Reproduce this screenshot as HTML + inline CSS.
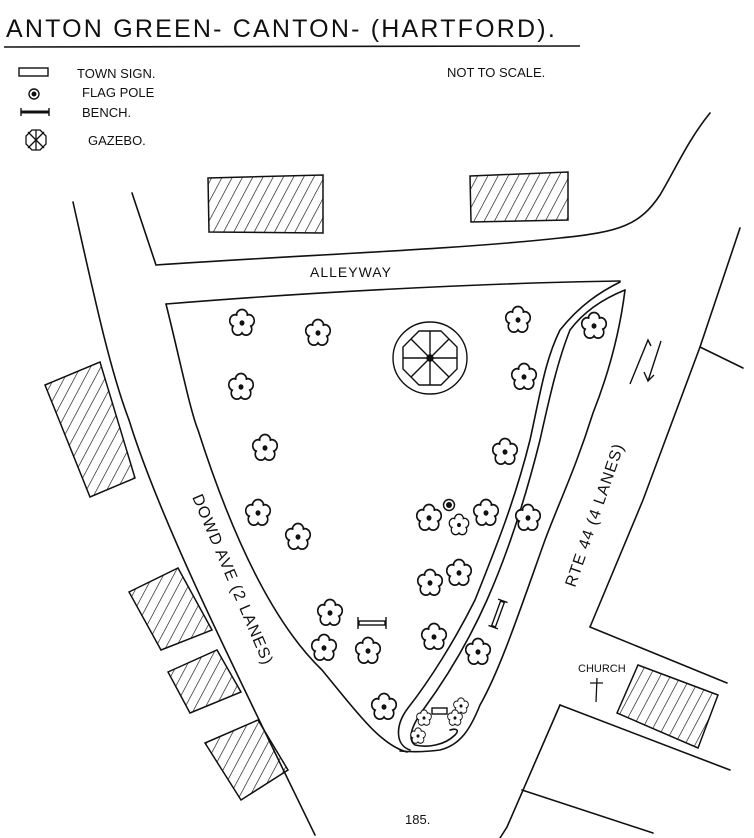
<!DOCTYPE html>
<html><head><meta charset="utf-8"><style>
html,body{margin:0;padding:0;background:#fff;}
svg{display:block;}
text{font-family:"Liberation Sans",sans-serif;fill:#111;}
</style></head><body>
<svg width="754" height="838" viewBox="0 0 754 838" xmlns="http://www.w3.org/2000/svg">
<defs>
<pattern id="h" patternUnits="userSpaceOnUse" width="9" height="9" patternTransform="rotate(28)">
<line x1="0" y1="0" x2="0" y2="9" stroke="#111" stroke-width="1.3"/>
</pattern>
<g id="f0">
<g fill="none" stroke="#111" stroke-width="1.3">
<circle cx="0" cy="-5.5" r="4.5"/><circle cx="5.3" cy="-1.7" r="4.5"/><circle cx="3.3" cy="4.5" r="4.5"/><circle cx="-3.3" cy="4.5" r="4.5"/><circle cx="-5.3" cy="-1.7" r="4.5"/>
</g>
<g fill="#fff">
<circle cx="0" cy="-5.5" r="3.7"/><circle cx="5.3" cy="-1.7" r="3.7"/><circle cx="3.3" cy="4.5" r="3.7"/><circle cx="-3.3" cy="4.5" r="3.7"/><circle cx="-5.3" cy="-1.7" r="3.7"/><circle r="5"/>
</g>
<circle r="2" fill="#111"/>
</g>
<g id="f"><g transform="scale(1.25,1.35)"><use href="#f0"/></g></g>
</defs>

<!-- title -->
<text x="6" y="37" font-size="25" letter-spacing="2.2">ANTON GREEN- CANTON- (HARTFORD).</text>
<line x1="4" y1="47" x2="580" y2="46" stroke="#111" stroke-width="1.6"/>

<!-- legend -->
<rect x="19" y="68" width="29" height="8" fill="none" stroke="#111" stroke-width="1.4"/>
<text x="77" y="78" font-size="13">TOWN SIGN.</text>
<circle cx="34" cy="94" r="5" fill="none" stroke="#111" stroke-width="1.4"/><circle cx="34" cy="94" r="2.5" fill="#111"/>
<text x="82" y="97" font-size="13">FLAG POLE</text>
<line x1="21" y1="112" x2="49" y2="112" stroke="#111" stroke-width="3"/>
<line x1="21" y1="108" x2="21" y2="116" stroke="#111" stroke-width="1.4"/><line x1="49" y1="108" x2="49" y2="116" stroke="#111" stroke-width="1.4"/>
<text x="82" y="117" font-size="13">BENCH.</text>
<g transform="translate(36,140)" stroke="#111" stroke-width="1.3" fill="none">
<polygon points="4,-10 10,-4 10,4 4,10 -4,10 -10,4 -10,-4 -4,-10"/>
<line x1="-8" y1="-8" x2="8" y2="8"/><line x1="8" y1="-8" x2="-8" y2="8"/><line x1="0" y1="-10" x2="0" y2="10"/>
</g>
<text x="88" y="145" font-size="13">GAZEBO.</text>
<text x="447" y="77" font-size="13">NOT TO SCALE.</text>

<!-- buildings -->
<g stroke="#111" stroke-width="1.5" fill="url(#h)">
<polygon points="208,178 323,175 323,233 209,232"/>
<polygon points="470,176 568,172 568,220 471,222"/>
<polygon points="45,385 100,362 135,478 90,497"/>
<polygon points="129,592 178,568 212,630 161,650"/>
<polygon points="168,672 217,650 241,692 190,713"/>
<polygon points="205,743 258,720 288,770 241,800"/>
<polygon points="638,665 718,695 698,748 617,713"/>
</g>

<!-- roads -->
<g fill="none" stroke="#111" stroke-width="1.6" stroke-linecap="round">
<path d="M73,202 C95,300 110,370 129,420 C160,520 230,660 315,835"/>
<path d="M132,193 L156,265 C300,255 450,250 560,238 C620,232 640,225 660,195 C675,170 688,140 710,113"/>
<path d="M166,304 C300,293 480,283 620,281"/>
<path d="M166,304 C180,360 190,410 198,430 C230,530 270,620 322,670 C355,710 380,745 407,752"/>
<path d="M620,282 C600,292 580,305 560,330 C545,360 540,395 530,440 C515,500 497,545 475,600 C455,640 430,680 408,708 C395,725 395,745 410,750"/>
<path d="M625,290 C605,298 585,310 570,330 C558,360 550,395 540,440 C525,500 507,555 487,600 C467,645 445,680 423,710 C410,728 408,740 415,745 C428,748 445,745 455,735 C460,730 456,728 450,730"/>
<path d="M625,290 C620,330 610,370 593,413 C575,470 560,500 545,540 C520,610 500,670 480,705 C470,730 460,745 440,750 C425,752 410,752 400,751"/>
<path d="M740,228 L700,347 L643,500 L590,627"/>
<path d="M700,347 L743,368"/>
<path d="M590,627 L727,683"/>
<path d="M560,705 L730,770"/>
<path d="M560,705 L507,827 L500,838"/>
<path d="M522,790 L653,833"/>
</g>

<!-- gazebo -->
<g transform="translate(430,358)" stroke="#111" stroke-width="1.4" fill="none">
<ellipse rx="37" ry="36"/>
<polygon points="11,-27 27,-11 27,11 11,27 -11,27 -27,11 -27,-11 -11,-27"/>
<line x1="0" y1="-27" x2="0" y2="27"/><line x1="-27" y1="0" x2="27" y2="0"/>
<line x1="-19" y1="-19" x2="19" y2="19"/><line x1="19" y1="-19" x2="-19" y2="19"/>
<circle r="3" fill="#111"/>
</g>

<!-- flowers -->
<use href="#f" x="242" y="323"/><use href="#f" x="318" y="333"/><use href="#f" x="518" y="320"/><use href="#f" x="594" y="326"/>
<use href="#f" x="241" y="387"/><use href="#f" x="524" y="377"/><use href="#f" x="265" y="448"/><use href="#f" x="505" y="452"/>
<use href="#f" x="258" y="513"/><use href="#f" x="298" y="537"/><use href="#f" x="429" y="518"/><use href="#f" x="486" y="513"/>
<use href="#f" x="528" y="518"/><use href="#f" x="430" y="583"/><use href="#f" x="459" y="573"/><use href="#f" x="330" y="613"/>
<use href="#f" x="324" y="648"/><use href="#f" x="368" y="651"/><use href="#f" x="434" y="637"/><use href="#f" x="478" y="652"/>
<use href="#f" x="384" y="707"/>
<g transform="translate(459,525) scale(0.8)"><use href="#f"/></g>
<g transform="translate(424,718) scale(0.6)"><use href="#f"/></g>
<g transform="translate(461,706) scale(0.6)"><use href="#f"/></g>
<g transform="translate(418,736) scale(0.6)"><use href="#f"/></g>
<g transform="translate(455,718) scale(0.6)"><use href="#f"/></g>

<!-- flag pole -->
<circle cx="449" cy="505" r="5.5" fill="none" stroke="#111" stroke-width="1.5"/><circle cx="449" cy="505" r="3" fill="#111"/>

<!-- benches -->
<g stroke="#111" stroke-width="1.4" fill="none">
<rect x="359" y="621" width="26" height="4"/><line x1="358" y1="617" x2="358" y2="629"/><line x1="386" y1="617" x2="386" y2="629"/>
<g transform="translate(498,614) rotate(-70)"><rect x="-13" y="-2" width="26" height="4"/><line x1="-14" y1="-5" x2="-14" y2="5"/><line x1="14" y1="-5" x2="14" y2="5"/></g>
<rect x="432" y="708" width="15" height="6"/>
</g>

<!-- arrows -->
<g stroke="#111" stroke-width="1.4" fill="none">
<path d="M630,384 L648,340 L651,346"/>
<path d="M661,341 L648,381 M644,372 L648,381 L654,375"/>
</g>

<!-- labels -->
<text x="310" y="277" font-size="14" letter-spacing="1">ALLEYWAY</text>
<text transform="translate(192,497) rotate(67)" font-size="16" letter-spacing="1">DOWD AVE (2 LANES)</text>
<text transform="translate(575,588) rotate(-71)" font-size="16" letter-spacing="1">RTE 44 (4 LANES)</text>
<text x="578" y="672" font-size="11">CHURCH</text>
<path d="M597,678 L596,702 M590,683 L603,683" stroke="#111" stroke-width="1.3" fill="none"/>
<text x="405" y="824" font-size="13">185.</text>
</svg>
</body></html>
